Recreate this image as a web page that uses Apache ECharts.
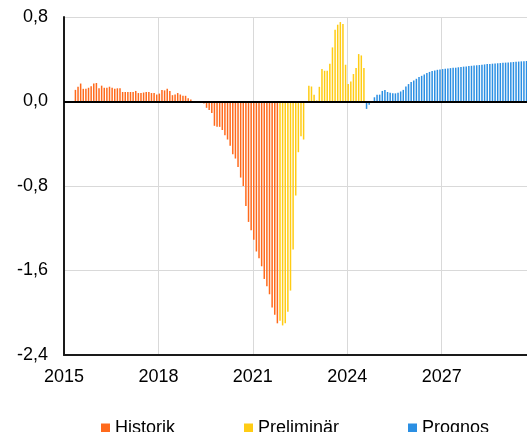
<!DOCTYPE html>
<html>
<head>
<meta charset="utf-8">
<title>Historik, preliminär, prognos</title>
<script src="https://cdn.jsdelivr.net/npm/echarts@6/dist/echarts.min.js"></script>
</head>
<body style="margin:0">
<div id="main" style="width:527px;height:432px"></div>
<script type="text/javascript">
// månadsdata, index 0 = januari 2015
var startYear = 2015;

// Historik: maj 2015 (index 4) till okt 2021
var histStart = 4;
var histValues = [
  0.11, 0.14, 0.17, 0.12, 0.12, 0.13, 0.145, 0.17,
  0.175, 0.125, 0.15, 0.13, 0.13, 0.14, 0.13, 0.12, 0.125, 0.125, 0.09, 0.09,
  0.09, 0.09, 0.09, 0.10, 0.08, 0.08, 0.085, 0.09, 0.09, 0.08, 0.08, 0.066,
  0.075, 0.11, 0.105, 0.12, 0.10, 0.06, 0.066, 0.08, 0.066, 0.054, 0.054, 0.03,
  0.02, 0.005, -0.01, -0.01, -0.01, -0.02, -0.06, -0.08, -0.11, -0.23, -0.24, -0.24,
  -0.27, -0.32, -0.36, -0.42, -0.50, -0.54, -0.62, -0.72, -0.80, -0.99, -1.14, -1.22,
  -1.31, -1.42, -1.485, -1.56, -1.68, -1.75, -1.825, -1.95, -2.02, -2.10
];

// Preliminär: nov 2021 till jul 2024
var prelStart = 82;
var prelValues = [
  -2.075, -2.12,
  -2.10, -1.99, -1.79, -1.40, -0.89, -0.48, -0.33, -0.36, 0, 0.149, 0.142, 0.064,
  0.01, 0.139, 0.307, 0.291, 0.291, 0.357, 0.512, 0.68, 0.727, 0.752, 0.733, 0.348,
  0.165, 0.19, 0.26, 0.316, 0.449, 0.436, 0.316
];

// Prognos: aug 2024 till dec 2029
var progStart = 115;
var progValues = [
  -0.07, -0.03, 0, 0.04, 0.063,
  0.065, 0.10, 0.11, 0.09, 0.082, 0.077, 0.077, 0.082, 0.095, 0.11, 0.142, 0.165,
  0.184, 0.20, 0.215, 0.231, 0.243, 0.256, 0.269, 0.28, 0.288, 0.294, 0.30, 0.304,
  0.307, 0.31, 0.313, 0.316, 0.319, 0.32, 0.324, 0.326, 0.33, 0.332, 0.335, 0.338,
  0.34, 0.343, 0.345, 0.348, 0.351, 0.354, 0.356, 0.358, 0.36, 0.362, 0.364, 0.366,
  0.368, 0.37, 0.372, 0.374, 0.376, 0.378, 0.38, 0.382, 0.383, 0.384, 0.385, 0.386
];

var seriesNames = ['Historik', 'Preliminär', 'Prognos'];
var colors = ['#FF6A1C', '#FFCC14', '#2B8FE3'];

// gör [år, värde]-par av en månadsserie
function toPoints(start, values) {
  return values.map(function (v, k) {
    return [startYear + (start + k + 0.35) / 12, v];
  });
}

var font = 'Liberation Sans, Arial, sans-serif';
var myChart = echarts.init(document.getElementById('main'));

function barSeries(idx, start, values) {
  return {
    name: seriesNames[idx],
    type: 'bar',
    barWidth: 1.5,
    barGap: '-100%',
    itemStyle: { color: colors[idx] },
    data: toPoints(start, values)
  };
}

var hist = barSeries(0, histStart, histValues);
// nollinjen
hist.markLine = {
  silent: true,
  symbol: 'none',
  label: { show: false },
  lineStyle: { color: '#000', width: 2, type: 'solid' },
  data: [{ yAxis: 0 }]
};

var option = {
  backgroundColor: '#ffffff',
  animation: false,
  textStyle: { fontFamily: font },
  grid: { left: 64, right: 0, top: 17, bottom: 77 },
  legend: {
    left: 96,
    top: 414,
    itemGap: 69,
    itemWidth: 9,
    itemHeight: 9,
    icon: 'rect',
    textStyle: { fontSize: 18, color: '#000', fontFamily: font },
    data: seriesNames
  },
  xAxis: [
    {
      type: 'value',
      min: 2015,
      max: 2029.71,
      interval: 3,
      axisLine: { show: true, onZero: false, lineStyle: { color: '#1a1a1a', width: 2 } },
      axisTick: { show: false },
      axisLabel: {
        color: '#000', fontSize: 18, margin: 13, fontFamily: font,
        showMaxLabel: false,
        formatter: function (v) { return String(v); }
      },
      splitLine: { show: true, lineStyle: { color: '#d9d9d9', width: 1 } }
    },
    {
      // ramens överkant
      type: 'value',
      position: 'top',
      min: 2015,
      max: 2029.71,
      axisLine: { show: true, lineStyle: { color: '#1a1a1a', width: 2 } },
      axisTick: { show: false },
      axisLabel: { show: false },
      splitLine: { show: false }
    }
  ],
  yAxis: {
    type: 'value',
    min: -2.4,
    max: 0.8,
    interval: 0.8,
    axisLine: { show: true, lineStyle: { color: '#1a1a1a', width: 2 } },
    axisTick: { show: false },
    axisLabel: {
      color: '#000', fontSize: 18, margin: 16, fontFamily: font,
      formatter: function (v) { return v.toFixed(1).replace('.', ','); }
    },
    splitLine: { show: true, lineStyle: { color: '#d9d9d9', width: 1 } }
  },
  series: [
    hist,
    barSeries(1, prelStart, prelValues),
    barSeries(2, progStart, progValues)
  ]
};

myChart.setOption(option);
</script>
</body>
</html>
